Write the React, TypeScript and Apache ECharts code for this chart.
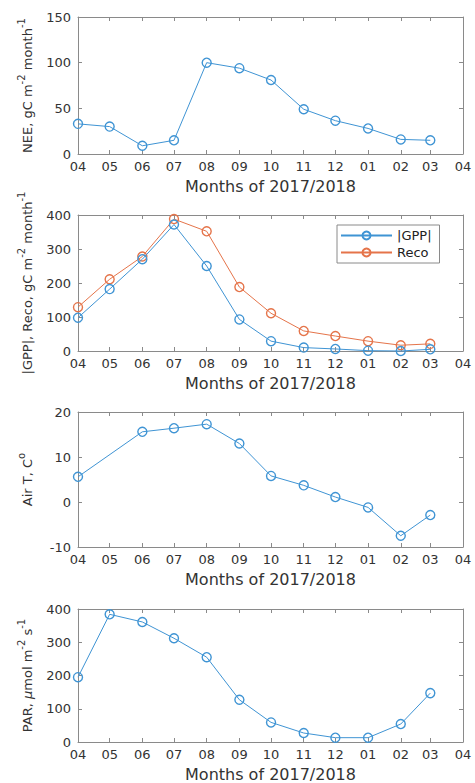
import React, { useEffect, useRef } from 'react';
import * as echarts from 'echarts';

// ---- data ----
const months = ['2017-04', '2017-05', '2017-06', '2017-07', '2017-08', '2017-09', '2017-10', '2017-11', '2017-12', '2018-01', '2018-02', '2018-03'];
const axisStart = '2017-04';
const axisEnd = '2018-04';
const nee = [33, 30, 9, 15, 100, 94, 81, 49, 36.5, 28, 16, 15];
const gpp = [98, 182, 270, 372, 250, 93, 29, 10, 6, 1, 0, 5];
const reco = [129, 211, 278, 388, 352, 188, 111, 59, 44, 29, 17, 21];
const airT: (number | null)[] = [5.6, null, 15.6, 16.4, 17.3, 13.0, 5.8, 3.7, 1.1, -1.2, -7.5, -2.9];
const par = [195, 384, 361, 312, 255, 127, 59, 27, 13, 13, 54, 147];

const xTitle = 'Months of 2017/2018';
const yTitles = [
  '{n|NEE, gC m}{s|-2}{n| month}{s|-1}',
  '{n||GPP|, Reco, gC m}{s|-2}{n| month}{s|-1}',
  '{n|Air T, C}{s|o}',
  '{n|PAR, }{i|μ}{n|mol m}{s|-2}{n| s}{s|-1}',
];
const yRanges = [
  { min: 0, max: 150, interval: 50 },
  { min: 0, max: 400, interval: 100 },
  { min: -10, max: 20, interval: 10 },
  { min: 0, max: 400, interval: 100 },
];

const BLUE = '#3f94d4';
const ORANGE = '#e5744a';
const FONT = 'DejaVu Sans';
const AXIS = '#8a8a8a';
const TEXT = '#333333';

const toTime = (s: string) => {
  const [y, m] = s.split('-').map(Number);
  return new Date(y, m - 1, 1).getTime();
};
const toData = (vals: (number | null)[]) =>
  months.map((m, i) => [toTime(m), vals[i]] as [number, number | null]).filter((d) => d[1] !== null);

const DAY = 86400000;

export default function App() {
  const ref = useRef<HTMLDivElement>(null);
  useEffect(() => {
    if (!ref.current) return;
    const chart = echarts.init(ref.current, undefined, { renderer: 'svg' });
    const grids = [
      { left: 78, right: 12, top: 17, height: 137 },
      { left: 78, right: 12, top: 215, height: 136 },
      { left: 78, right: 12, top: 412, height: 135 },
      { left: 78, right: 12, top: 609, height: 136 },
    ];
    const xAxes: any[] = [];
    const yAxes: any[] = [];
    grids.forEach((g, i) => {
      const baseX = {
        type: 'time',
        gridIndex: i,
        min: toTime(axisStart),
        max: toTime(axisEnd),
        splitNumber: 12,
        minInterval: 28 * DAY,
        axisLine: { show: true, onZero: false, lineStyle: { color: AXIS, width: 1 } },
        axisTick: { show: true, inside: true, length: 4, lineStyle: { color: AXIS } },
        splitLine: { show: false },
      };
      xAxes.push({
        ...baseX,
        position: 'bottom',
        axisLabel: {
          show: true,
          showMinLabel: true,
          showMaxLabel: true,
          hideOverlap: false,
          margin: 6,
          fontFamily: FONT,
          fontSize: 13,
          color: TEXT,
          formatter: (v: number) => String(new Date(v).getMonth() + 1).padStart(2, '0'),
        },
        name: xTitle,
        nameLocation: 'middle',
        nameGap: 24,
        nameTextStyle: { fontFamily: FONT, fontSize: 16, color: TEXT },
      });
      xAxes.push({ ...baseX, position: 'top', axisLabel: { show: false } });
      const r = yRanges[i];
      const baseY = {
        type: 'value',
        gridIndex: i,
        min: r.min,
        max: r.max,
        interval: r.interval,
        axisLine: { show: true, onZero: false, lineStyle: { color: AXIS, width: 1 } },
        axisTick: { show: true, inside: true, length: 4, lineStyle: { color: AXIS } },
        splitLine: { show: false },
      };
      yAxes.push({
        ...baseY,
        position: 'left',
        axisLabel: { margin: 7, fontFamily: FONT, fontSize: 13, color: TEXT },
        name: yTitles[i],
        nameLocation: 'middle',
        nameRotate: 90,
        nameGap: 44,
        nameTextStyle: {
          fontFamily: FONT,
          fontSize: 13,
          color: TEXT,
          rich: {
            n: { fontFamily: FONT, fontSize: 13, color: TEXT, verticalAlign: 'bottom' },
            i: { fontFamily: FONT, fontSize: 13, fontStyle: 'italic', color: TEXT, verticalAlign: 'bottom' },
            s: { fontFamily: FONT, fontSize: 10, color: TEXT, verticalAlign: 'top', padding: [0, 0, 8, 0] },
          },
        },
      });
      yAxes.push({ ...baseY, position: 'right', axisLabel: { show: false } });
    });

    const lineSeries = (name: string, vals: (number | null)[], idx: number, color: string) => ({
      type: 'line',
      name,
      xAxisIndex: idx * 2,
      yAxisIndex: idx * 2,
      data: toData(vals),
      symbol: 'circle',
      symbolSize: 9,
      showAllSymbol: true,
      lineStyle: { color, width: 1 },
      itemStyle: { color: 'rgba(255,255,255,0)', borderColor: color, borderWidth: 1.4 },
      emphasis: { disabled: true },
      clip: false,
      z: name === '|GPP|' ? 3 : 2,
    });

    chart.setOption({
      animation: false,
      backgroundColor: '#ffffff',
      textStyle: { fontFamily: FONT },
      grid: grids,
      xAxis: xAxes,
      yAxis: yAxes,
      legend: {
        data: ['|GPP|', 'Reco'],
        orient: 'vertical',
        left: 337,
        top: 225,
        padding: [4, 8, 4, 3],
        itemWidth: 51,
        itemHeight: 10,
        itemGap: 4,
        borderColor: AXIS,
        borderWidth: 1,
        backgroundColor: '#ffffff',
        textStyle: { fontFamily: FONT, fontSize: 13, color: '#222' },
      },
      series: [
        lineSeries('NEE', nee, 0, BLUE),
        lineSeries('|GPP|', gpp, 1, BLUE),
        lineSeries('Reco', reco, 1, ORANGE),
        lineSeries('Air T', airT, 2, BLUE),
        lineSeries('PAR', par, 3, BLUE),
      ],
    });
    return () => chart.dispose();
  }, []);
  return <div ref={ref} style={{ position: 'absolute', left: 0, top: 0, width: 475, height: 783 }} />;
}
